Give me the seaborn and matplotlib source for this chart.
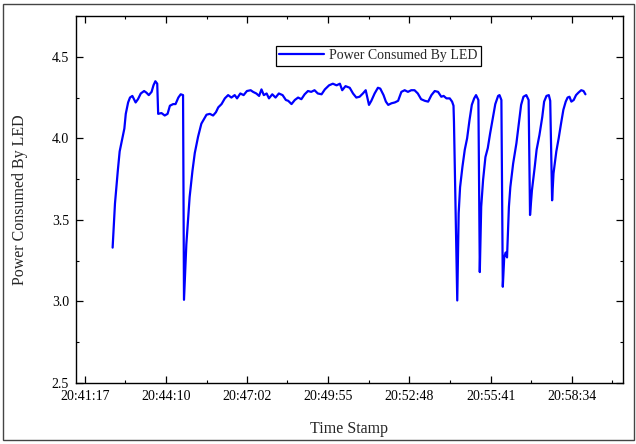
import matplotlib
matplotlib.use("Agg")
import matplotlib.pyplot as plt
import seaborn as sns
import pandas as pd
from matplotlib.patches import Rectangle

# ---- data (seconds after 20:41:17, power) ----
start_label = "20:41:17"
elapsed_s = [59, 64, 70, 74, 79, 84, 87, 92, 96, 101, 108, 113, 119, 126, 131, 136, 142, 146, 150, 154,
             156, 163, 170, 176, 181, 188, 193, 199, 204, 209, 211, 216, 223, 229, 234, 241, 248, 254,
             259, 266, 273, 279, 284, 291, 298, 305, 312, 319, 324, 331, 338, 345, 353, 358, 365, 371,
             376, 381, 387, 392, 399, 406, 413, 421, 428, 433, 440, 447, 454, 461, 468, 475, 482, 489,
             496, 504, 511, 520, 528, 536, 543, 548, 555, 564, 571, 578, 585, 592, 598, 605, 610, 617,
             624, 629, 636, 641, 646, 653, 660, 667, 674, 681, 688, 695, 702, 709, 716, 724, 731, 738,
             745, 752, 759, 764, 770, 777, 782, 785, 786, 793, 796, 799, 804, 809, 814, 819, 824, 829,
             833, 838, 841, 844, 848, 853, 858, 863, 869, 874, 880, 883, 887, 890, 893, 896, 899, 903,
             906, 912, 919, 924, 929, 934, 940, 945, 948, 952, 958, 962, 968, 974, 978, 983, 988, 991,
             995, 998, 1004, 1009, 1014, 1019, 1024, 1028, 1032, 1036, 1041, 1046, 1051, 1057, 1062, 1066]
power = [3.33, 3.60, 3.80, 3.92, 3.99, 4.06, 4.15, 4.22, 4.25, 4.26, 4.22, 4.24, 4.275, 4.29, 4.28, 4.265,
         4.285, 4.325, 4.35, 4.335,
         4.15, 4.155, 4.14, 4.15, 4.20, 4.21, 4.21, 4.25, 4.27, 4.265, 3.01, 3.35, 3.64, 3.80, 3.91, 4.01,
         4.09, 4.12,
         4.145, 4.15, 4.14, 4.16, 4.19, 4.21, 4.245, 4.265, 4.25, 4.265, 4.245, 4.275, 4.265, 4.29, 4.295,
         4.285, 4.275, 4.26,
         4.30, 4.265, 4.275, 4.245, 4.27, 4.25, 4.275, 4.265, 4.235, 4.23, 4.21, 4.235, 4.25, 4.24, 4.27,
         4.29, 4.285, 4.295,
         4.275, 4.27, 4.30, 4.325, 4.335, 4.325, 4.335, 4.295, 4.32, 4.31, 4.275, 4.25, 4.255, 4.275, 4.295,
         4.205, 4.23, 4.275,
         4.31, 4.305, 4.265, 4.225, 4.205, 4.215, 4.22, 4.23, 4.285, 4.295, 4.285, 4.295, 4.295, 4.275,
         4.24, 4.23, 4.225, 4.265,
         4.29, 4.285, 4.255, 4.26, 4.245, 4.245, 4.225, 4.20, 4.10, 3.006, 3.54, 3.70, 3.825, 3.93, 4.00,
         4.11, 4.205, 4.245,
         4.265, 4.235, 3.18, 3.58, 3.745, 3.885, 3.94, 4.03, 4.13, 4.21, 4.26, 4.265, 4.235, 3.09, 3.27,
         3.30, 3.27, 3.58,
         3.70, 3.845, 3.97, 4.09, 4.205, 4.255, 4.265, 4.235, 3.53, 3.68, 3.825, 3.93, 4.02, 4.13, 4.225,
         4.26, 4.265, 4.23,
         3.62, 3.785, 3.92, 4.00, 4.09, 4.175, 4.225, 4.25, 4.255, 4.225, 4.235, 4.265, 4.28, 4.295, 4.29, 4.27]
x_tick_labels = ["20:41:17", "20:44:10", "20:47:02", "20:49:55", "20:52:48", "20:55:41", "20:58:34"]
y_ticks = [2.5, 3.0, 3.5, 4.0, 4.5]
series_name = "Power Consumed By LED"


def to_sec(s):
    h, m, sec = (int(p) for p in s.split(":"))
    return h * 3600 + m * 60 + sec


t0 = to_sec(start_label)
x_tick_pos = [to_sec(s) - t0 for s in x_tick_labels]

df = pd.DataFrame({"t": elapsed_s, "p": power})

sns.set_style("ticks")
plt.rcParams["font.family"] = ["Liberation Serif", "DejaVu Serif"]

fig = plt.figure(figsize=(6.36, 4.44), dpi=100)
ax = fig.add_axes([76 / 636, 1 - 383 / 444, (623 - 76) / 636, (383 - 16) / 444])

sns.lineplot(data=df, x="t", y="p", ax=ax, color="#0000FF", linewidth=1.6,
             label=series_name, sort=False)

ax.set_xlim(-19, 1146)
ax.set_ylim(2.5, 4.75)
ax.set_xticks(x_tick_pos)
ax.set_xticklabels(x_tick_labels)
step = (x_tick_pos[-1] - x_tick_pos[0]) / (len(x_tick_pos) - 1)
minor_x = [p + step / 2 for p in x_tick_pos]
ax.set_xticks(minor_x, minor=True)
ax.set_yticks(y_ticks)
ax.set_yticklabels([f"{v:.1f}" for v in y_ticks])
ax.set_yticks([v + 0.25 for v in y_ticks[:-1]] + [4.75], minor=True)

ax.tick_params(which="both", direction="in", top=True, right=True, colors="black", labelsize=10)
ax.tick_params(which="major", length=5, width=0.9, pad=5)
ax.tick_params(which="minor", length=2.5, width=0.8)
for sp in ax.spines.values():
    sp.set_visible(True)
    sp.set_color("black")
    sp.set_linewidth(1.0)

ax.set_xlabel("Time Stamp", fontsize=11.5, labelpad=13)
ax.set_ylabel(series_name, fontsize=11.5, labelpad=17)

leg = ax.legend(loc="center", bbox_to_anchor=(0.553, 0.892), fontsize=10, frameon=True,
                fancybox=False, edgecolor="black", framealpha=1, handlelength=3.2,
                borderpad=0.25, handletextpad=0.4)
leg.get_frame().set_linewidth(0.9)

fig.patches.append(Rectangle((3 / 636, 4 / 444), 631 / 636, 436 / 444, transform=fig.transFigure,
                             fill=False, edgecolor="#444444", linewidth=1.0))

fig.savefig("out.png", dpi=100)
